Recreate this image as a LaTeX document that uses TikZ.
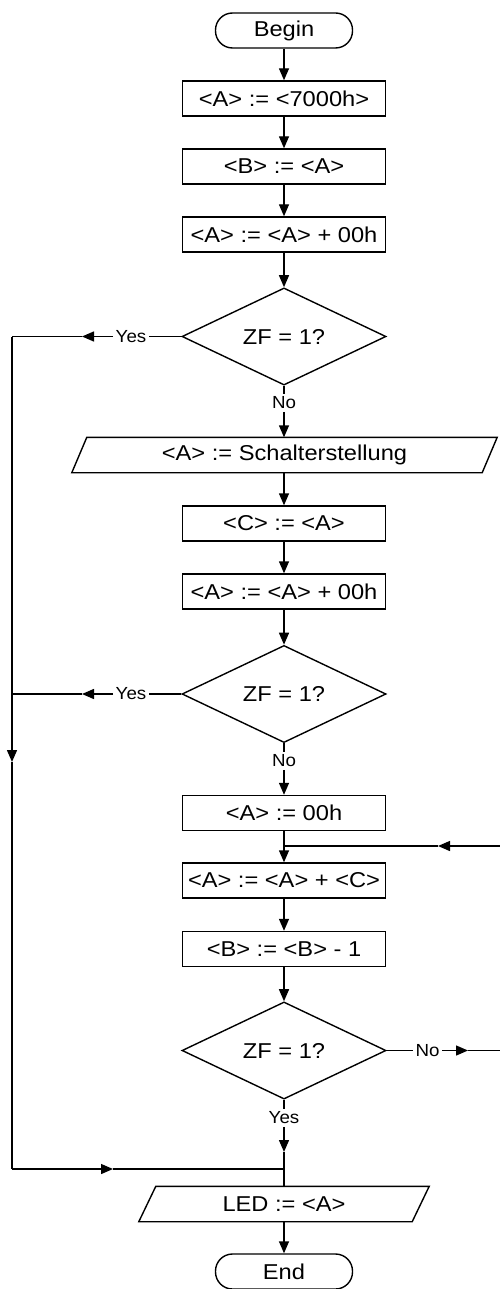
\documentclass[tikz,border=0pt]{standalone}
\usepackage{graphicx}
\usepackage{fontspec}
\setmainfont{Liberation Sans}
\usetikzlibrary{arrows.meta,shapes.geometric,calc}
% slightly widened lettering
\newcommand\wide[1]{\scalebox{1.1}[1]{#1}}
\newcommand\lwide[1]{\scalebox{1.07}[1]{#1}}

\begin{document}
\begin{tikzpicture}[x=1pt,y=-1pt,line width=1.4pt,
  every node/.style={inner sep=0pt},
  txt/.style={font=\fontsize{21.5}{21.5}\selectfont},
  lbl/.style={font=\fontsize{17.5}{17.5}\selectfont,inner sep=2pt},
  term/.style={txt,draw,rounded corners=17pt,minimum width=137pt,minimum height=35pt},
  proc/.style={txt,draw,minimum width=203pt,minimum height=35pt},
  dec/.style={txt,draw,diamond,minimum width=204pt,minimum height=67pt},
  io/.style={txt,minimum height=34pt},
  arr/.style={-{Triangle[length=12pt,width=10pt]}},
]
\clip (0,0) rectangle (500,1289);

% main column
\node[term] (begin) at (284,30.5)  {\wide{Begin}};
\node[proc] (s1)    at (284,98.5)  {\wide{<A> := <7000h>}};
\node[proc] (s2)    at (284,166.5) {\wide{<B> := <A>}};
\node[proc] (s3)    at (284,234.5) {\wide{<A> := <A> + 00h}};
\node[dec]  (d1)    at (284,336.5) {\wide{ZF = 1?}};
\node[io,minimum width=409pt] (in1) at (284.5,455) {\wide{<A> := Schalterstellung}};
\node[proc] (s4)    at (284,523.5) {\wide{<C> := <A>}};
\node[proc] (s5)    at (284,591.5) {\wide{<A> := <A> + 00h}};
\node[dec]  (d2)    at (284,694)   {\wide{ZF = 1?}};
\node[proc] (s6)    at (284,813)   {\wide{<A> := 00h}};
\node[proc] (s7)    at (284,880.5) {\wide{<A> := <A> + <C>}};
\node[proc] (s8)    at (284,949)   {\wide{<B> := <B> - 1}};
\node[dec]  (d3)    at (284,1050.5){\wide{ZF = 1?}};
\node[io,minimum width=272pt] (out) at (284,1204) {\wide{LED := <A>}};
\node[term] (end)   at (284,1271.5){\wide{End}};

% input / output parallelograms
\draw ([xshift=7.5pt]in1.north west) -- ([xshift=7.5pt]in1.north east)
   -- ([xshift=-7.5pt]in1.south east) -- ([xshift=-7.5pt]in1.south west) -- cycle;
\draw ([xshift=8.5pt]out.north west) -- ([xshift=8.5pt]out.north east)
   -- ([xshift=-8.5pt]out.south east) -- ([xshift=-8.5pt]out.south west) -- cycle;

% branch labels
\node[lbl] (y1) at (131,336.5)  {\lwide{Yes}};
\node[lbl] (n1) at (284,403)    {\lwide{No}};
\node[lbl] (y2) at (131,694)    {\lwide{Yes}};
\node[lbl] (n2) at (284,761)    {\lwide{No}};
\node[lbl] (n3) at (427.5,1050.5) {\lwide{No}};
\node[lbl] (y3) at (284,1118)   {\lwide{Yes}};

% routing points
\coordinate (ya1) at (82,336.5);
\coordinate (lt)  at (12,336.5);
\coordinate (ya2) at (82,694);
\coordinate (lm)  at (12,694);
\coordinate (la)  at (12,762);
\coordinate (lb)  at (12,1169);
\coordinate (ja)  at (113,1169);
\coordinate (j1)  at (284,1169);
\coordinate (a3)  at (284,1152);
\coordinate (na3) at (468,1050.5);
\coordinate (rb)  at (506,1050.5);
\coordinate (rt)  at (506,846);
\coordinate (ra)  at (438,846);
\coordinate (j2)  at (284,846);

% straight flow
\draw[arr] (begin) -- (s1);
\draw[arr] (s1) -- (s2);
\draw[arr] (s2) -- (s3);
\draw[arr] (s3) -- (d1);
\draw (d1) -- (n1);
\draw[arr] (n1) -- (n1 |- in1.north);
\draw[arr] (s4 |- in1.south) -- (s4);
\draw[arr] (s4) -- (s5);
\draw[arr] (s5) -- (d2);
\draw (d2) -- (n2);
\draw[arr] (n2) -- (s6);
\draw[arr] (s6) -- (s7);
\draw[arr] (s7) -- (s8);
\draw[arr] (s8) -- (d3);
\draw (d3) -- (y3);
\draw[arr] (y3) -- (a3);
\draw (a3) -- (out.north);
\draw[arr] (out) -- (end);

% "Yes" exits to the left rail
\draw (d1.west) -- (y1);
\draw[arr] (y1) -- (ya1);
\draw (ya1) -- (lt);
\draw (d2.west) -- (y2);
\draw[arr] (y2) -- (ya2);
\draw (ya2) -- (lm);
\draw[arr] (lt) -- (la);
\draw (la) -- (lb);
\draw[arr] (lb) -- (ja);
\draw (ja) -- (j1);

% loop back on "No"
\draw (d3.east) -- (n3);
\draw[arr] (n3) -- (na3);
\draw (na3) -- (rb) -- (rt);
\draw[arr] (rt) -- (ra);
\draw (ra) -- (j2);
\end{tikzpicture}
\end{document}
